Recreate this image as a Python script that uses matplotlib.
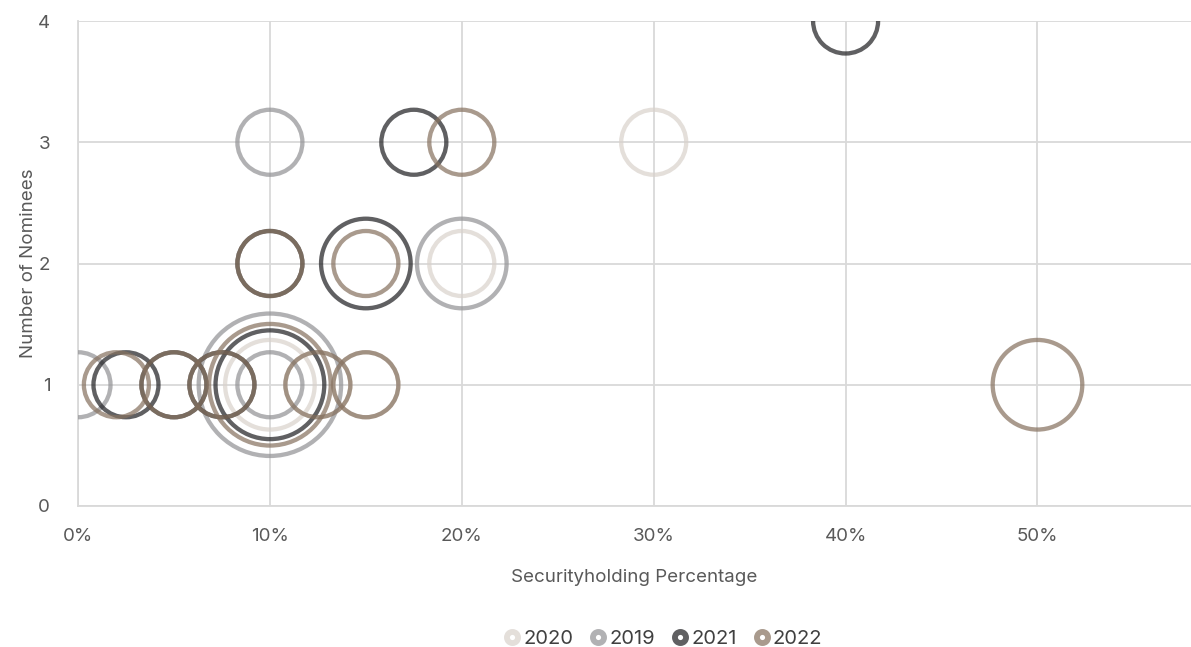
import matplotlib
matplotlib.use("Agg")
import matplotlib.pyplot as plt
from matplotlib.lines import Line2D
from matplotlib.ticker import FuncFormatter

plt.rcParams['font.family'] = ['Inter', 'DejaVu Sans']

# bubble data per year: securityholding %, number of nominees, bubble size
x_2020 = [10, 12.5, 15, 20, 30]
y_2020 = [1, 1, 1, 2, 3]
s_2020 = [1.9, 1, 1, 1, 1]

x_2019 = [0, 10, 10, 10, 20]
y_2019 = [1, 1, 1, 3, 2]
s_2019 = [1, 1, 4.8, 1, 1.9]

x_2021 = [2.5, 5, 7.5, 10, 10, 15, 17.5, 40]
y_2021 = [1, 1, 1, 1, 2, 2, 3, 4]
s_2021 = [1, 1, 1, 2.8, 1, 1.9, 1, 1]

x_2022 = [2, 5, 7.5, 10, 10, 12.5, 15, 15, 20, 50]
y_2022 = [1, 1, 1, 1, 2, 1, 1, 2, 3, 1]
s_2022 = [1, 1, 1, 3.5, 1, 1, 1, 1, 1, 1.9]

series = [
    ("2020", x_2020, y_2020, s_2020, "#d9d2cc"),
    ("2019", x_2019, y_2019, s_2019, "#929295"),
    ("2021", x_2021, y_2021, s_2021, "#1f1f22"),
    ("2022", x_2022, y_2022, s_2022, "#86715f"),
]

ALPHA = 0.71
SCALE = 2190  # pt^2 per unit of bubble size

fig = plt.figure(figsize=(11.91, 6.47), dpi=100)
ax = fig.add_axes([78 / 1191, 1 - 506 / 647, 1 - 78 / 1191, (506 - 21) / 647])

handles = []
for label, xs, ys, ss, col in series:
    ax.scatter(xs, ys, s=[v * SCALE for v in ss], facecolors="none",
               edgecolors=col, linewidths=3.1, alpha=ALPHA, zorder=3)
    handles.append(Line2D([], [], linestyle="none", marker="o", markersize=8,
                          markerfacecolor="white", markeredgecolor=col,
                          markeredgewidth=4.2, alpha=ALPHA, label=label))

ax.set_xlim(0, 58)
ax.set_ylim(0, 4)
ax.set_xticks([0, 10, 20, 30, 40, 50])
ax.set_yticks([0, 1, 2, 3, 4])
ax.xaxis.set_major_formatter(FuncFormatter(lambda v, p: f"{v:.0f}%"))

ax.grid(True, color="#d9d9d9", linewidth=1.3, zorder=0)
ax.set_axisbelow(True)
for side in ["top", "right"]:
    ax.spines[side].set_visible(False)
for side in ["left", "bottom"]:
    ax.spines[side].set_color("#d9d9d9")
    ax.spines[side].set_linewidth(1.3)
ax.tick_params(length=0, labelsize=13.5, labelcolor="#595959", pad=16)
ax.tick_params(axis="y", pad=20)

ax.set_xlabel("Securityholding Percentage", fontsize=13.5, color="#595959", labelpad=17)
ax.set_ylabel("Number of Nominees", fontsize=13.5, color="#595959", labelpad=1)

fig.legend(handles=handles, loc="lower center", bbox_to_anchor=(0.556, -0.03), ncol=4,
           frameon=False, fontsize=14.5, handletextpad=0.05, columnspacing=0.75,
           labelcolor="#404040", handlelength=1.0)

fig.savefig("out.png", dpi=100)
